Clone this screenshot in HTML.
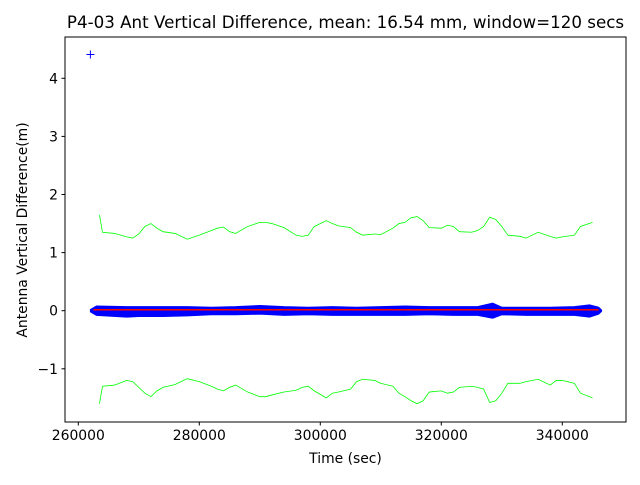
<!DOCTYPE html>
<html><head><meta charset="utf-8"><style>
body{margin:0;background:#fff;}
svg text{font-family:"DejaVu Sans","Liberation Sans",sans-serif;fill:#000;}
</style></head><body>
<svg id="chart" width="640" height="480" xmlns="http://www.w3.org/2000/svg">
<rect width="640" height="480" fill="#fff"/>
<text x="345.5" y="28" font-size="16.7" text-anchor="middle">P4-03 Ant Vertical Difference, mean: 16.54 mm, window=120 secs</text>
<text x="345.5" y="463" font-size="13.9" text-anchor="middle">Time (sec)</text>
<text transform="translate(27,230) rotate(-90)" font-size="13.9" text-anchor="middle">Antenna Vertical Difference(m)</text>
<g id="plot"></g>
<rect x="65" y="37" width="561" height="385" fill="none" stroke="#000" stroke-width="1"/>
</svg>
<script>
const xTicks=[260000,280000,300000,320000,340000];
const yTicks=[-1,0,1,2,3,4];
const yTickLabels=["\u22121","0","1","2","3","4"];
const envX=[263.5,264,266,268,269,270,271,272,273,274,276,278,280,282,283,284,285,286,288,290,291,292,294,296,297,298,299,301,302,303,305,306,307,309,310,312,313,314,315,316,317,318,320,321,322,323,325,326,327,328,329,330,331,333,334,336,338,339,340,342,343,345];
const upperEnv=[1.65,1.35,1.33,1.27,1.25,1.32,1.45,1.5,1.42,1.36,1.33,1.23,1.3,1.38,1.42,1.44,1.36,1.33,1.45,1.52,1.52,1.5,1.43,1.3,1.28,1.3,1.45,1.55,1.5,1.46,1.43,1.35,1.3,1.32,1.31,1.42,1.5,1.52,1.6,1.62,1.55,1.43,1.42,1.47,1.45,1.36,1.35,1.38,1.45,1.61,1.57,1.45,1.3,1.28,1.25,1.35,1.28,1.25,1.27,1.3,1.45,1.52];
const lowerEnv=[-1.6,-1.3,-1.28,-1.2,-1.22,-1.32,-1.42,-1.48,-1.38,-1.32,-1.27,-1.17,-1.22,-1.3,-1.35,-1.38,-1.32,-1.28,-1.4,-1.48,-1.48,-1.45,-1.4,-1.37,-1.32,-1.3,-1.38,-1.5,-1.42,-1.4,-1.35,-1.22,-1.18,-1.2,-1.25,-1.3,-1.42,-1.48,-1.55,-1.6,-1.55,-1.4,-1.38,-1.42,-1.4,-1.32,-1.3,-1.32,-1.35,-1.58,-1.55,-1.42,-1.25,-1.25,-1.22,-1.18,-1.28,-1.2,-1.2,-1.25,-1.42,-1.5];
const bandX=[262,263,268,270,274,278,282,286,290,294,298,302,306,310,314,318,322,326,328.5,330,334,338,342,344.5,346,346.5];
const bandHi=[0.02,0.08,0.07,0.07,0.07,0.07,0.06,0.07,0.09,0.07,0.06,0.07,0.06,0.07,0.08,0.07,0.07,0.07,0.13,0.06,0.06,0.06,0.07,0.1,0.06,0.01];
const bandLo=[-0.02,-0.08,-0.11,-0.1,-0.1,-0.09,-0.07,-0.07,-0.06,-0.08,-0.07,-0.08,-0.08,-0.08,-0.08,-0.07,-0.08,-0.08,-0.13,-0.07,-0.08,-0.08,-0.08,-0.11,-0.06,-0.01];
const outlierX=[262000];
const outlierY=[4.41];
const meanVal=0.0165;
const meanRange=[262500,346000];

const sx=v=>78.3+(v-260000)*(363/60000);
const sy=v=>310.7-v*58.1;
const NS="http://www.w3.org/2000/svg";
const g=document.getElementById('plot');
function mk(t,a){const e=document.createElementNS(NS,t);for(const k in a)e.setAttribute(k,a[k]);g.appendChild(e);return e;}

xTicks.forEach(t=>{
  const l=mk('line',{x1:sx(t),x2:sx(t),y1:422,y2:425.5,stroke:'#000'});
  
  
  const tx=mk('text',{x:sx(t),y:440,'font-size':13.9,'text-anchor':'middle'});
  tx.textContent=t;
  
  
});
yTicks.forEach((t,i)=>{
  const l=mk('line',{x1:61.5,x2:65,y1:sy(t),y2:sy(t),stroke:'#000'});
  
  
  const tx=mk('text',{x:58,y:sy(t)+5,'font-size':13.9,'text-anchor':'end'});
  tx.textContent=yTickLabels[i];
  
  
});
let d='';
bandX.forEach((x,i)=>{d+=(i?'L':'M')+sx(x*1000)+','+sy(bandHi[i]);});
for(let i=bandX.length-1;i>=0;i--)d+='L'+sx(bandX[i]*1000)+','+sy(bandLo[i]);
const band=mk('path',{d:d+'Z',fill:'#0000ff',stroke:'#0000ff','stroke-width':1});


outlierX.forEach((x,i)=>{
  const p=mk('path',{d:`M${sx(x)-4},${sy(outlierY[i])}h8M${sx(x)},${sy(outlierY[i])-4}v8`,stroke:'#0000ff','stroke-width':1});
  
  
});
const m=mk('line',{x1:sx(meanRange[0]),x2:sx(meanRange[1]),y1:sy(meanVal),y2:sy(meanVal),stroke:'#ff0000','stroke-width':1.5});


[[upperEnv,'upper-envelope'],[lowerEnv,'lower-envelope']].forEach(([arr,name])=>{
  const pts=envX.map((x,i)=>sx(x*1000)+','+sy(arr[i])).join(' ');
  const pl=mk('polyline',{points:pts,fill:'none',stroke:'#00ff00','stroke-width':0.8});
  
  
});
</script>
</body></html>
